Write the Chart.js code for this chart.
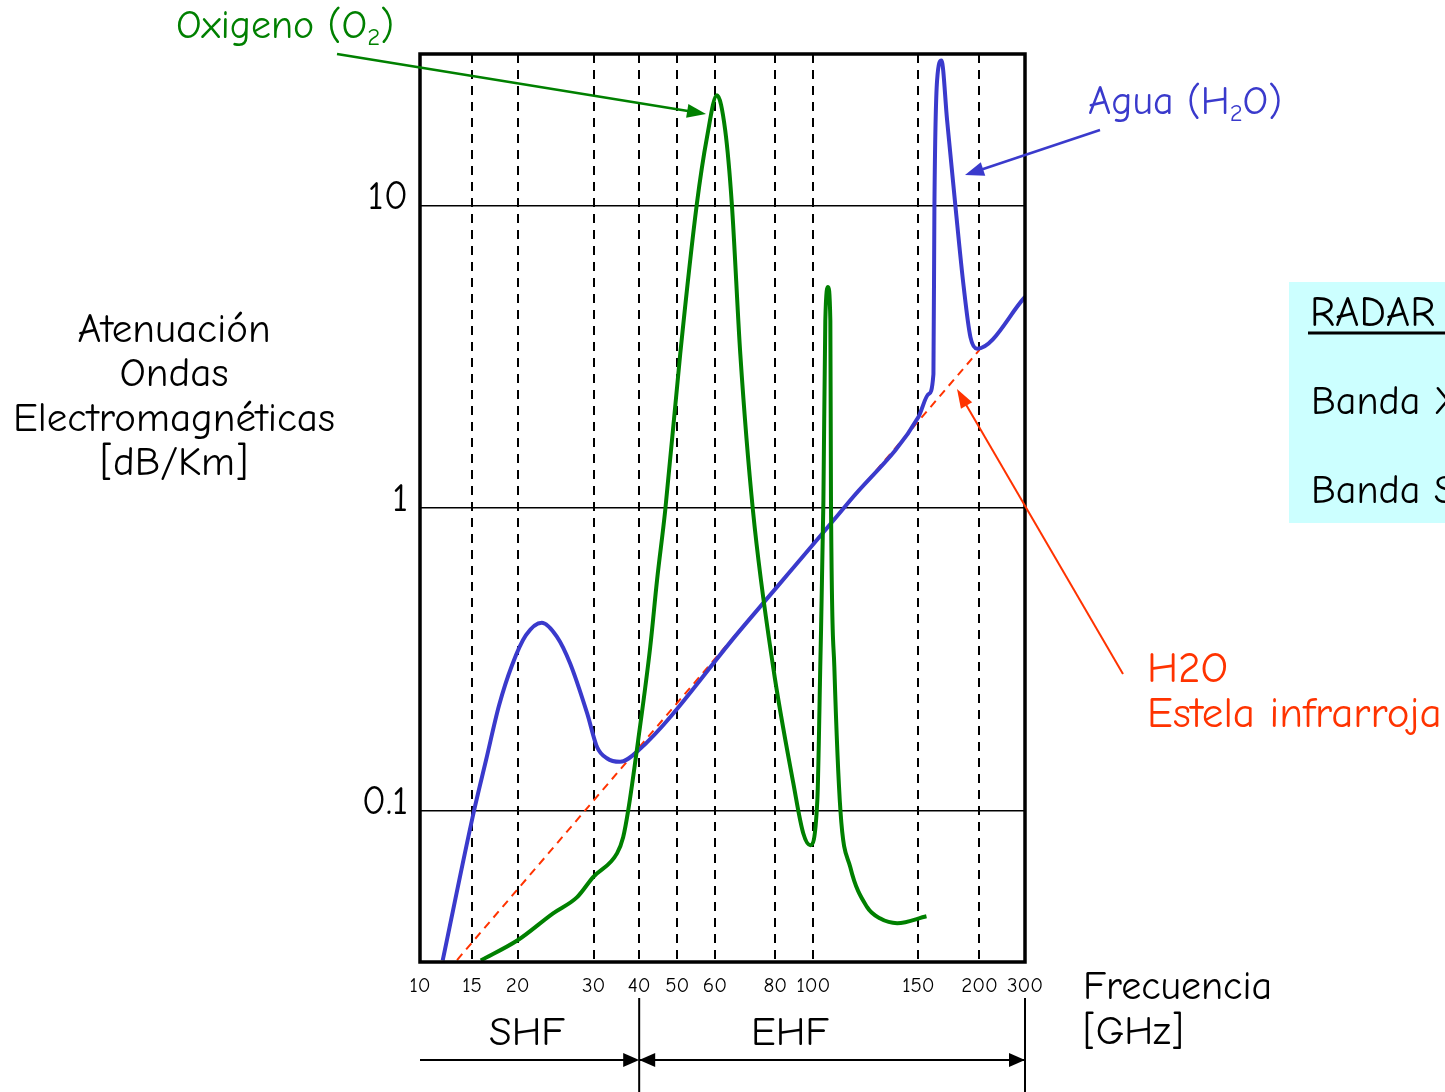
<!DOCTYPE html>
<html>
<head>
<meta charset="utf-8">
<script src="https://cdn.jsdelivr.net/npm/chart.js@4.4.1/dist/chart.umd.min.js"></script>
<style>
html,body{margin:0;padding:0;background:#fff;overflow:hidden}
#wrap{position:relative;width:1445px;height:1092px}
</style>
</head>
<body>
<div id="wrap"><canvas id="c" width="1445" height="1092"></canvas></div>
<script>
// ---------- DATA ----------
const freqTicks = [10, 15, 20, 30, 40, 50, 60, 80, 100, 150, 200, 300];   // GHz
const attTicks = [0.1, 1, 10];                                              // dB/Km

// Agua (H2O) absorption curve
const waterFreq = [12.18, 15.22, 16.54, 17.97, 19.4, 21.1, 23.18, 25.16, 26.9, 29.14, 30.77, 32.9, 35.8, 39.8,
                   68.4, 117.6, 150, 158.4, 162.3, 163.1, 165.3, 168.85, 173.5, 180.3,
                   187.1, 192.6, 198.1, 300];
const waterAtt  = [0.032, 0.1, 0.147, 0.223, 0.303, 0.38, 0.418, 0.376, 0.307, 0.21, 0.162, 0.149, 0.145, 0.158,
                   0.395, 1.06, 2.0, 2.38, 2.77, 9.9, 25.9, 30.1, 19.1, 9.95,
                   5.37, 3.67, 3.36, 4.98];

// Oxigeno (O2) absorption curve
const oxyFreq = [15.96, 20.0, 24.67, 27.83, 29.93, 35.16, 36.48, 37.58, 39.78, 42.9, 44.7, 46.84, 50.8,
                 55.2, 57.9, 60.66, 63.4, 65.6, 68.4, 72.6, 79.3, 89.5, 94.7, 98.4, 101.9, 103.3,
                 104.8, 105.7, 107.0, 108.1, 108.4, 110, 112.9, 117.6, 125.6, 131.9, 139.9, 156.6];
const oxyAtt  = [0.032, 0.0373, 0.0458, 0.0518, 0.0603, 0.0724, 0.0817, 0.1, 0.171, 0.347, 0.578, 0.98, 3.23,
                 10.1, 16.8, 23.1, 17.7, 10.1, 3.23, 0.98, 0.298, 0.123, 0.0842, 0.0769, 0.108, 0.298,
                 1.06, 4.16, 5.37, 4.16, 1.06, 0.298, 0.1, 0.065, 0.048, 0.044, 0.0425, 0.0448];

// H2O estela infrarroja (dashed trend)
const irFreq = [13.56, 200];
const irAtt  = [0.0321, 3.33];

// ---------- LAYOUT (hand-drawn, irregular frequency axis) ----------
const tickAxisPos = [0, 52, 97.5, 173.5, 219, 257, 294.7, 355, 393, 498, 559, 604.5];
function freqToAxis(f) {
  for (let i = 0; i < freqTicks.length - 1; i++) {
    const f0 = freqTicks[i], f1 = freqTicks[i + 1];
    if (f <= f1 || i === freqTicks.length - 2) {
      const t = (f - f0) / (f1 - f0);
      return tickAxisPos[i] + t * (tickAxisPos[i + 1] - tickAxisPos[i]);
    }
  }
}
const pts = (fs, vs) => fs.map((f, i) => ({ x: freqToAxis(f), y: vs[i] }));

const FONT = "'Comic Sans MS','Comic Neue','Lato',sans-serif";
const BLUE = '#3a3acc', GREEN = '#008000', RED = '#ff3300';

function drawRich(c, x, y, parts, size, color, align) {
  c.save();
  c.fillStyle = color;
  c.textBaseline = 'middle';
  c.textAlign = 'left';
  let w = 0;
  parts.forEach(p => { c.font = (p.sub ? size * 0.62 : size) + 'px ' + FONT; w += c.measureText(p.t).width; });
  let cx = align === 'center' ? x - w / 2 : x;
  parts.forEach(p => {
    c.font = (p.sub ? size * 0.62 : size) + 'px ' + FONT;
    c.fillText(p.t, cx, p.sub ? y + size * 0.28 : y);
    cx += c.measureText(p.t).width;
  });
  c.restore();
}
function arrow(c, x1, y1, x2, y2, color, lw, hl, hw) {
  const ang = Math.atan2(y2 - y1, x2 - x1);
  c.save();
  c.strokeStyle = color; c.fillStyle = color; c.lineWidth = lw;
  c.beginPath();
  c.moveTo(x1, y1);
  c.lineTo(x2 - Math.cos(ang) * hl * 0.8, y2 - Math.sin(ang) * hl * 0.8);
  c.stroke();
  c.beginPath();
  c.moveTo(x2, y2);
  c.lineTo(x2 - Math.cos(ang) * hl + Math.sin(ang) * hw / 2, y2 - Math.sin(ang) * hl - Math.cos(ang) * hw / 2);
  c.lineTo(x2 - Math.cos(ang) * hl - Math.sin(ang) * hw / 2, y2 - Math.sin(ang) * hl + Math.cos(ang) * hw / 2);
  c.closePath();
  c.fill();
  c.restore();
}

const annotations = {
  id: 'annotations',
  beforeDraw(chart) {
    const c = chart.ctx;
    c.save();
    c.fillStyle = '#ccffff';
    c.fillRect(1289, 282, 1445 - 1289, 523 - 282);
    c.restore();
  },
  afterDraw(chart) {
    const c = chart.ctx, a = chart.chartArea;
    const xs = chart.scales.x;
    c.save();
    c.strokeStyle = '#000'; c.lineWidth = 3.5;
    c.strokeRect(a.left, a.top, a.right - a.left, a.bottom - a.top);
    c.restore();

    // labels
    drawRich(c, 176, 27, [{t:'Oxigeno (O'},{t:'2',sub:true},{t:')'}], 40, GREEN);
    drawRich(c, 1088, 103, [{t:'Agua (H'},{t:'2',sub:true},{t:'O)'}], 40, BLUE);
    ['Atenuación', 'Ondas', 'Electromagnéticas', '[dB/Km]'].forEach((s, i) =>
      drawRich(c, 174, 330 + i * 44.5, [{t:s}], 41, '#000', 'center'));
    drawRich(c, 1083, 988, [{t:'Frecuencia'}], 40, '#000');
    drawRich(c, 1083, 1033, [{t:'[GHz]'}], 40, '#000');
    drawRich(c, 1147, 670, [{t:'H2O'}], 43, RED);
    drawRich(c, 1147, 715, [{t:'Estela infrarroja'}], 43, RED);
    drawRich(c, 1310, 314, [{t:'RADAR'}], 42, '#000');
    drawRich(c, 1311, 403, [{t:'Banda X'}], 40, '#000');
    drawRich(c, 1311, 492, [{t:'Banda S'}], 40, '#000');
    c.save(); c.strokeStyle = '#000'; c.lineWidth = 3;
    c.beginPath(); c.moveTo(1308, 333); c.lineTo(1445, 333); c.stroke(); c.restore();

    // band bars
    const x40 = xs.getPixelForValue(freqToAxis(40)), x300 = xs.getPixelForValue(freqToAxis(300)), x10 = xs.getPixelForValue(freqToAxis(10));
    drawRich(c, 527, 1033, [{t:'SHF'}], 41, '#000', 'center');
    drawRich(c, 790, 1033, [{t:'EHF'}], 41, '#000', 'center');
    c.save(); c.strokeStyle = '#000'; c.lineWidth = 2;
    c.beginPath(); c.moveTo(x40, 998); c.lineTo(x40, 1092); c.moveTo(x300, 998); c.lineTo(x300, 1092); c.stroke();
    c.restore();
    arrow(c, x10, 1060, x40, 1060, '#000', 2, 16, 14);
    arrow(c, x300, 1060, x40, 1060, '#000', 2, 16, 14);
    arrow(c, x40, 1060, x300, 1060, '#000', 2, 16, 14);

    // pointer arrows
    arrow(c, 337, 54, 706, 114, GREEN, 2.5, 19, 14);
    arrow(c, 1100, 130, 965, 175, BLUE, 2.5, 19, 14);
    arrow(c, 1123, 674, 957, 389, RED, 2, 19, 13);
  }
};

new Chart(document.getElementById('c'), {
  type: 'line',
  data: {
    datasets: [
      { label: 'Oxigeno (O2)', data: pts(oxyFreq, oxyAtt), borderColor: GREEN, borderWidth: 4,
        pointRadius: 0, cubicInterpolationMode: 'monotone', fill: false, order: 0 },
      { label: 'Agua (H2O)', data: pts(waterFreq, waterAtt), borderColor: BLUE, borderWidth: 4,
        pointRadius: 0, cubicInterpolationMode: 'monotone', fill: false, order: 1 },
      { label: 'H2O Estela infrarroja', data: pts(irFreq, irAtt), borderColor: RED, borderWidth: 2,
        borderDash: [8, 6], pointRadius: 0, tension: 0, fill: false, order: 2 }
    ]
  },
  options: {
    responsive: false,
    animation: false,
    devicePixelRatio: 1,
    layout: { padding: { left: 0, right: 420, top: 54, bottom: 90 } },
    plugins: { legend: { display: false }, tooltip: { enabled: false } },
    scales: {
      x: {
        type: 'linear',
        min: tickAxisPos[0],
        max: tickAxisPos[tickAxisPos.length - 1],
        afterBuildTicks: s => { s.ticks = tickAxisPos.map(v => ({ value: v })); },
        afterFit: s => { s.height = 40; },
        ticks: {
          autoSkip: false, maxRotation: 0, padding: 11, color: '#000',
          font: { size: 21, family: FONT },
          callback: (v, i) => String(freqTicks[i])
        },
        grid: { color: '#000', lineWidth: 2, drawTicks: false },
        border: { display: false, dash: [9, 7] }
      },
      y: {
        type: 'logarithmic',
        min: Math.pow(10, -1.5),
        max: Math.pow(10, 1.5),
        afterBuildTicks: s => { s.ticks = attTicks.map(v => ({ value: v })); },
        afterFit: s => { s.width = 420; },
        ticks: {
          padding: 12, color: '#000', labelOffset: -8,
          font: { size: 40, family: FONT },
          callback: v => String(v)
        },
        grid: { color: '#000', lineWidth: 1.5, drawTicks: false },
        border: { display: false }
      }
    }
  },
  plugins: [annotations]
});
</script>
</body>
</html>
